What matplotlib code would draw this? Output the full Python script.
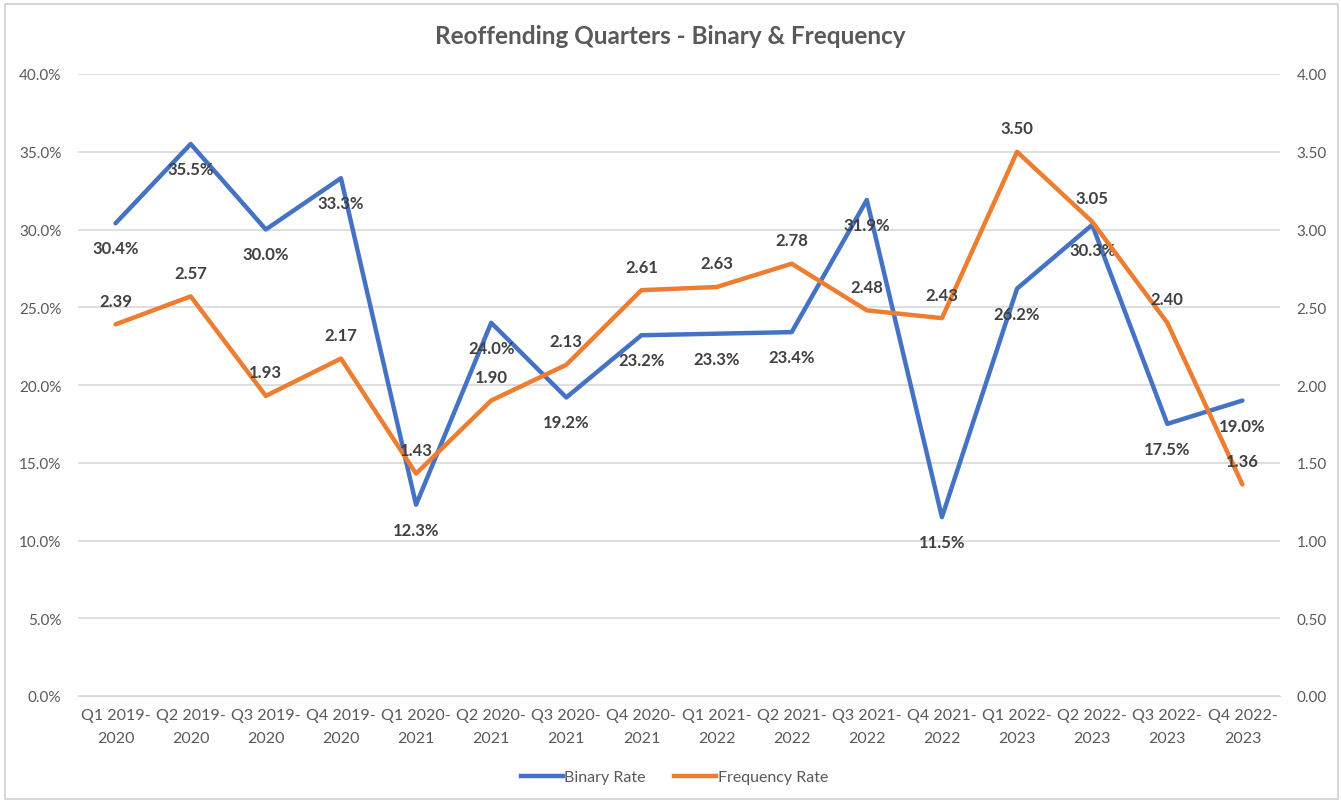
import matplotlib.pyplot as plt
from matplotlib.patches import Rectangle
from matplotlib.lines import Line2D
from matplotlib.ticker import FuncFormatter, MultipleLocator

plt.rcParams['font.family'] = ['Lato', 'DejaVu Sans']

quarters = ["Q1 2019-\n2020", "Q2 2019-\n2020", "Q3 2019-\n2020", "Q4 2019-\n2020",
            "Q1 2020-\n2021", "Q2 2020-\n2021", "Q3 2020-\n2021", "Q4 2020-\n2021",
            "Q1 2021-\n2022", "Q2 2021-\n2022", "Q3 2021-\n2022", "Q4 2021-\n2022",
            "Q1 2022-\n2023", "Q2 2022-\n2023", "Q3 2022-\n2023", "Q4 2022-\n2023"]
binary_rate = [30.4, 35.5, 30.0, 33.3, 12.3, 24.0, 19.2, 23.2,
               23.3, 23.4, 31.9, 11.5, 26.2, 30.3, 17.5, 19.0]
frequency_rate = [2.39, 2.57, 1.93, 2.17, 1.43, 1.90, 2.13, 2.61,
                  2.63, 2.78, 2.48, 2.43, 3.50, 3.05, 2.40, 1.36]

blue = '#4472C4'
orange = '#ED7D31'
txt = '#595959'
grid = '#D9D9D9'

fig = plt.figure(figsize=(13.41, 8.03), dpi=100)
fig.patches.append(Rectangle((5 / 1341, 3 / 803), 1333 / 1341, 795 / 803,
                             transform=fig.transFigure, fill=False,
                             edgecolor='#D0D0D0', linewidth=1.2))

ax = fig.add_axes([78 / 1341, 1 - 697 / 803, 1202 / 1341, 622 / 803])
ax2 = ax.twinx()

x = list(range(len(quarters)))
ax.plot(x, binary_rate, color=blue, lw=3.2, solid_capstyle='round', zorder=3)
ax2.plot(x, frequency_rate, color=orange, lw=3.2, solid_capstyle='round', zorder=3)

ax.set_xlim(-0.5, len(quarters) - 0.5)
ax.set_ylim(0, 40)
ax2.set_ylim(0, 4)
ax.yaxis.set_major_locator(MultipleLocator(5))
ax2.yaxis.set_major_locator(MultipleLocator(0.5))
ax.yaxis.set_major_formatter(FuncFormatter(lambda v, p: f"{v:.1f}%"))
ax2.yaxis.set_major_formatter(FuncFormatter(lambda v, p: f"{v:.2f}"))

ax.set_xticks(x)
ax.set_xticklabels(quarters, linespacing=1.75)
ax.grid(axis='y', color=grid, lw=1.2)
ax.set_axisbelow(True)
for a in (ax, ax2):
    for s in a.spines.values():
        s.set_visible(False)
    a.tick_params(length=0, colors=txt, labelsize=11)
ax.spines['bottom'].set_visible(True)
ax.spines['bottom'].set_color(grid)
ax.tick_params(axis='y', pad=12)
ax2.tick_params(axis='y', pad=12)
ax.tick_params(axis='x', pad=9, labelsize=11.5)

# keep lines above the grid of ax
ax2.set_zorder(ax.get_zorder() + 1)
ax2.patch.set_visible(False)

for xi, v in zip(x, binary_rate):
    ax.annotate(f"{v:.1f}%", (xi, v), xytext=(0, -18), textcoords='offset points',
                ha='center', va='center', fontsize=12, fontweight='bold',
                color='#404040', zorder=5)
for xi, v in zip(x, frequency_rate):
    ax2.annotate(f"{v:.2f}", (xi, v), xytext=(0, 17), textcoords='offset points',
                 ha='center', va='center', fontsize=12, fontweight='bold',
                 color='#404040', zorder=5)

fig.text(0.5, 1 - 37 / 803, "Reoffending Quarters - Binary & Frequency",
         ha='center', va='center', fontsize=17.5, fontweight='bold', color=txt)

handles = [Line2D([], [], color=blue, lw=3.2), Line2D([], [], color=orange, lw=3.2)]
fig.legend(handles, ["Binary Rate", "Frequency Rate"], loc='center',
           bbox_to_anchor=(0.503, 1 - 778 / 803), ncol=2, frameon=False,
           fontsize=11.5, labelcolor=txt, handlelength=2.6, handletextpad=0.1,
           columnspacing=1.8)

fig.savefig('out.png', dpi=100)
